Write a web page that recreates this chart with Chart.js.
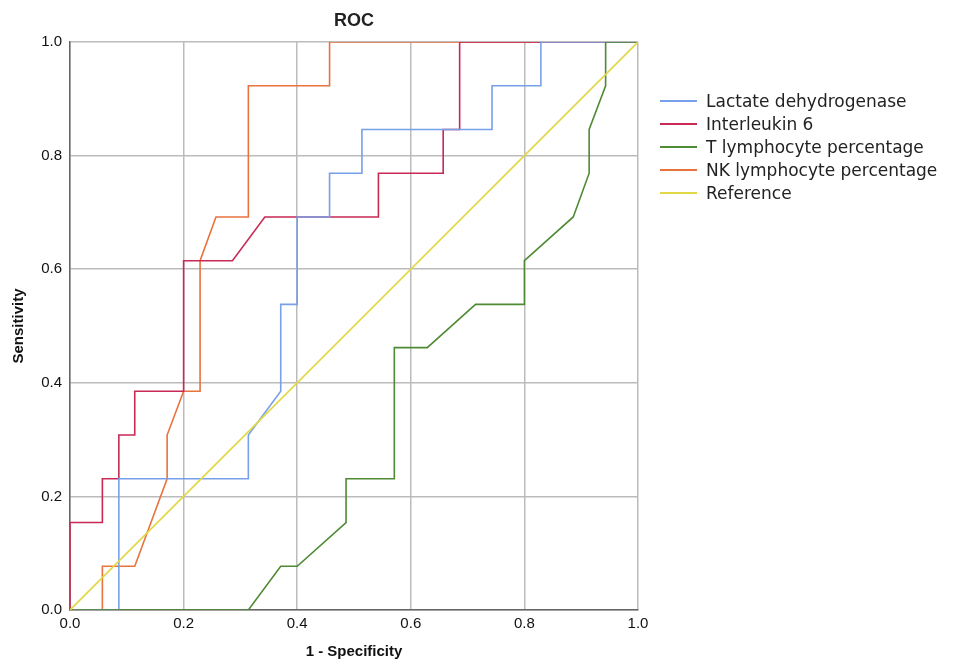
<!DOCTYPE html>
<html>
<head>
<meta charset="utf-8">
<script src="https://cdn.jsdelivr.net/npm/chart.js@4"></script>
<style>
  body { margin: 0; width: 954px; height: 665px; overflow: hidden; background: #fff; font-family: "Liberation Sans", Arial, sans-serif; position: relative; }
  #wrap { position: absolute; left: 0; top: 0; width: 954px; height: 665px; }
  #title { position: absolute; left: 70px; width: 568px; top: 10px; text-align: center; font-weight: bold; font-size: 18px; color: #222; }
  #legend { position: absolute; left: 660px; top: 89px; font-size: 17px; font-family: "DejaVu Sans", sans-serif; color: #222; white-space: nowrap; }
  .row { height: 23px; display: flex; align-items: center; }
  .sw { width: 37px; height: 2px; margin-right: 9px; display: inline-block; }
</style>
</head>
<body>
<div id="wrap"><canvas id="roc" width="954" height="665"></canvas></div>
<div id="title">ROC</div>
<div id="legend"></div>
<script>
// curve coordinates: 1 - specificity (x) and sensitivity (y)
const seriesNames = ['Lactate dehydrogenase', 'Interleukin 6', 'T lymphocyte percentage', 'NK lymphocyte percentage', 'Reference'];
const seriesColors = ['#78a0ea', '#c82a55', '#4f8a34', '#e8733c', '#e2d845'];

const ldhX = [0, 0.086, 0.086, 0.314, 0.314, 0.371, 0.371, 0.4, 0.4, 0.457, 0.457, 0.514, 0.514, 0.743, 0.743, 0.829, 0.829, 1];
const ldhY = [0, 0, 0.231, 0.231, 0.308, 0.385, 0.538, 0.538, 0.692, 0.692, 0.769, 0.769, 0.846, 0.846, 0.923, 0.923, 1, 1];

const il6X = [0, 0, 0.057, 0.057, 0.086, 0.086, 0.114, 0.114, 0.2, 0.2, 0.286, 0.343, 0.543, 0.543, 0.657, 0.657, 0.686, 0.686, 1];
const il6Y = [0, 0.154, 0.154, 0.231, 0.231, 0.308, 0.308, 0.385, 0.385, 0.615, 0.615, 0.692, 0.692, 0.769, 0.769, 0.846, 0.846, 1, 1];

const tX = [0, 0.314, 0.371, 0.4, 0.486, 0.486, 0.571, 0.571, 0.629, 0.714, 0.8, 0.8, 0.886, 0.914, 0.914, 0.943, 0.943, 1];
const tY = [0, 0, 0.077, 0.077, 0.154, 0.231, 0.231, 0.462, 0.462, 0.538, 0.538, 0.615, 0.692, 0.769, 0.846, 0.923, 1, 1];

const nkX = [0, 0.057, 0.057, 0.114, 0.171, 0.171, 0.2, 0.229, 0.229, 0.257, 0.314, 0.314, 0.457, 0.457, 1];
const nkY = [0, 0, 0.077, 0.077, 0.231, 0.308, 0.385, 0.385, 0.615, 0.692, 0.692, 0.923, 0.923, 1, 1];

const refX = [0, 1];
const refY = [0, 1];

const tickLabels = ['0.0', '0.2', '0.4', '0.6', '0.8', '1.0'];

function toPoints(xs, ys) {
    return xs.map(function (x, i) { return { x: x, y: ys[i] }; });
}

const allX = [ldhX, il6X, tX, nkX, refX];
const allY = [ldhY, il6Y, tY, nkY, refY];
// draw order: reference first so the curves sit on top
const drawOrder = [4, 2, 0, 1, 3];

const datasets = drawOrder.map(function (i) {
    return {
        label: seriesNames[i],
        data: toPoints(allX[i], allY[i]),
        borderColor: seriesColors[i],
        borderWidth: 1.6,
        pointRadius: 0,
        tension: 0,
        fill: false
    };
});

const legend = document.getElementById('legend');
seriesNames.forEach(function (name, i) {
    const row = document.createElement('div');
    row.className = 'row';
    row.innerHTML = '<span class="sw" style="background:' + seriesColors[i] + '"></span>' + name;
    legend.appendChild(row);
});

function tickText(v) {
    const s = v.toFixed(1);
    return tickLabels.indexOf(s) >= 0 ? s : '';
}

new Chart(document.getElementById('roc'), {
    type: 'line',
    data: { datasets: datasets },
    options: {
        responsive: false,
        animation: false,
        layout: { padding: { left: 10, right: 316, top: 42, bottom: 0 } },
        plugins: { legend: { display: false }, tooltip: { enabled: false } },
        scales: {
            x: {
                type: 'linear', min: 0, max: 1,
                ticks: { stepSize: 0.2, callback: tickText, color: '#111', font: { size: 15, family: 'Liberation Sans' }, padding: 5 },
                grid: { color: '#bbbbbb', lineWidth: 1.5, drawTicks: false },
                border: { color: '#666', width: 1.5 },
                title: { display: true, text: '1 - Specificity', color: '#111', font: { size: 15, weight: 'bold', family: 'Liberation Sans' }, padding: { top: 20 } },
                afterFit: function (s) { s.height = 55; }
            },
            y: {
                type: 'linear', min: 0, max: 1,
                ticks: { stepSize: 0.2, callback: tickText, color: '#111', font: { size: 15, family: 'Liberation Sans' }, padding: 8 },
                grid: { color: '#bbbbbb', lineWidth: 1.5, drawTicks: false },
                border: { color: '#666', width: 1.5 },
                title: { display: true, text: 'Sensitivity', color: '#111', font: { size: 15, weight: 'bold', family: 'Liberation Sans' }, padding: 0 },
                afterFit: function (s) { s.width = 60; }
            }
        }
    }
});
</script>
</body>
</html>
